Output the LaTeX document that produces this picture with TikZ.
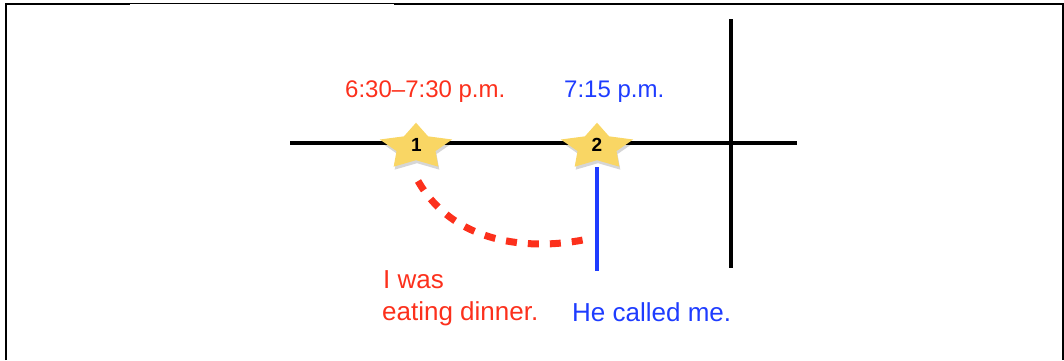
\documentclass[tikz,border=0pt]{standalone}
\usepackage{fontspec}
\setmainfont{Liberation Sans}
\definecolor{tred}{RGB}{252,48,28}
\definecolor{tblue}{RGB}{30,60,255}
\definecolor{staryellow}{RGB}{249,214,100}
\tikzset{
  mystar/.pic={
    \begin{scope}[shift={(1pt,-3pt)}]
      \fill[black,opacity=.16] (90:38pt and 24.3pt) -- (126:20.5pt and 13.2pt) -- (162:38pt and 24.3pt) -- (198:20.5pt and 13.2pt) -- (234:38pt and 24.3pt) -- (270:20.5pt and 13.2pt) -- (306:38pt and 24.3pt) -- (342:20.5pt and 13.2pt) -- (18:38pt and 24.3pt) -- (54:20.5pt and 13.2pt) -- cycle;
    \end{scope}
    \fill[staryellow] (90:38pt and 24.3pt) -- (126:20.5pt and 13.2pt) -- (162:38pt and 24.3pt) -- (198:20.5pt and 13.2pt) -- (234:38pt and 24.3pt) -- (270:20.5pt and 13.2pt) -- (306:38pt and 24.3pt) -- (342:20.5pt and 13.2pt) -- (18:38pt and 24.3pt) -- (54:20.5pt and 13.2pt) -- cycle;
  }
}
\begin{document}
\begin{tikzpicture}[x=1pt,y=-1pt,
  axis/.style={line width=4pt, black},
  lbl/.style={inner sep=0pt, anchor=base west, font=\fontsize{24}{29}\selectfont},
  lblb/.style={inner sep=0pt, anchor=base west, font=\fontsize{26}{31}\selectfont},
  num/.style={inner sep=0pt, font=\fontsize{19}{21}\selectfont\bfseries},
]
\useasboundingbox (0,0) rectangle (1064,360);
% frame
\draw[line width=2pt] (6,360) -- (6,4) -- (130,4);
\draw[line width=1pt] (130,3.5) -- (394,3.5);
\draw[line width=1.7pt] (394,4) -- (1063,4) -- (1063,360);
% axes
\coordinate (hL) at (290,143);
\coordinate (hR) at (797,143);
\coordinate (vT) at (731,19);
\coordinate (vB) at (731,268);
\draw[axis] (hL) -- (hR);
\draw[axis] (vT) -- (vB);
% blue event line
\coordinate (bT) at (597,167);
\coordinate (bB) at (597,271);
\draw[tblue, line width=4pt] (bT) -- (bB);
% red dashed arc
\coordinate (rS) at (418,181);
\coordinate (rE) at (583,240);
\draw[tred, line width=7pt, dash pattern=on 11pt off 11pt] (rS) .. controls (455,245) and (530,250) .. (rE);
% stars
\pic at (416,147) {mystar};
\pic at (597,147) {mystar};
\node[num] (n1) at (416.5,145) {1};
\node[num] (n2) at (597,145) {2};
% labels
\node[lbl, text=tred] (t1) at (345,97) {6:30–7:30 p.m.};
\node[lbl, text=tblue] (t2) at (564,97) {7:15 p.m.};
\node[lblb, text=tred] (t3) at (383,288) {I was};
\node[lblb, text=tred] (t4) at (382,320) {eating dinner.};
\node[lblb, text=tblue] (t5) at (572,321) {He called me.};
\end{tikzpicture}
\end{document}
